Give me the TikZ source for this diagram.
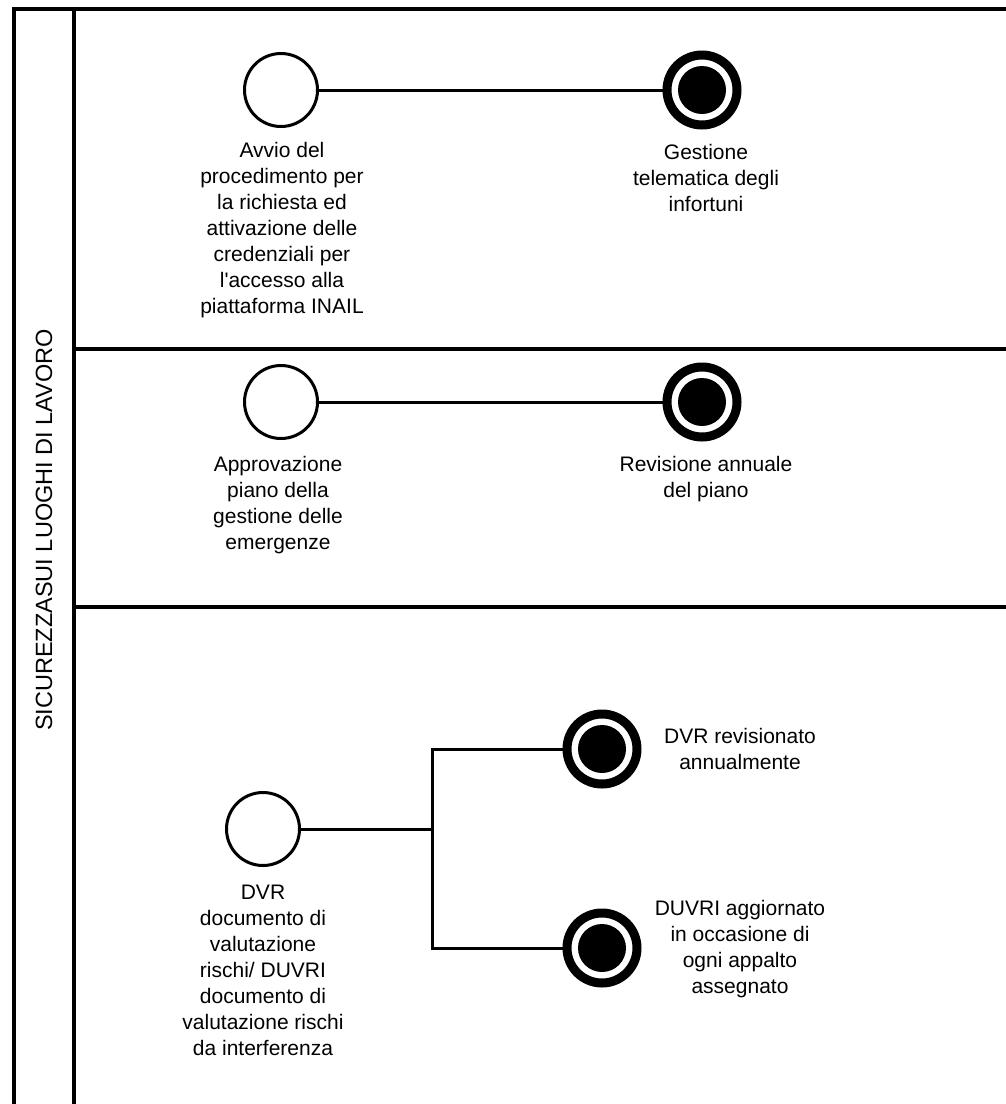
\documentclass[tikz,border=0pt]{standalone}
\usepackage{fontspec}
\setmainfont{Liberation Sans}
\begin{document}
\begin{tikzpicture}[x=1pt,y=-1pt,
  border/.style={line width=4pt,line cap=rect},
  startev/.style={circle,draw,line width=3pt,minimum size=73pt,inner sep=0pt},
  endev/.style={circle,draw,line width=9pt,minimum size=70pt,inner sep=0pt,
    path picture={\fill (path picture bounding box.center) circle (24pt);}},
  flow/.style={line width=3pt},
  lbl/.style={align=center,inner sep=0pt,font=\fontsize{21}{26}\selectfont},
]
\useasboundingbox (0,0) rectangle (1006,1104);
% pool and lanes
\coordinate (tl) at (14,9);
\coordinate (tr) at (1010,9);
\coordinate (bl) at (14,1110);
\coordinate (dt) at (74,9);
\coordinate (db) at (74,1110);
\coordinate (l1a) at (74,349);
\coordinate (l1b) at (1010,349);
\coordinate (l2a) at (74,607);
\coordinate (l2b) at (1010,607);
\draw[border] (bl) -- (tl) -- (tr);
\draw[border] (dt) -- (db);
\draw[border] (l1a) -- (l1b);
\draw[border] (l2a) -- (l2b);
\node[align=center,inner sep=0pt,font=\fontsize{23.5}{28}\selectfont,rotate=90] (pool) at (44,530) {SICUREZZASUI LUOGHI DI LAVORO};
% lane 1
\node[startev] (s1) at (281,90) {};
\node[endev] (e1) at (702,90) {};
\draw[flow] (s1) -- (e1);
\node[lbl] (t1) at (282,230) {Avvio del\\procedimento per\\la richiesta ed\\attivazione delle\\credenziali per\\l\textquotesingle accesso alla\\piattaforma INAIL};
\node[lbl] (t2) at (706,178) {Gestione\\telematica degli\\infortuni};
% lane 2
\node[startev] (s2) at (281,402) {};
\node[endev] (e2) at (702,402) {};
\draw[flow] (s2) -- (e2);
\node[lbl] (t3) at (278,505) {Approvazione\\piano della\\gestione delle\\emergenze};
\node[lbl] (t4) at (706,479) {Revisione annuale\\del piano};
% lane 3
\node[startev] (s3) at (263,829) {};
\node[endev] (e3) at (602,749) {};
\node[endev] (e4) at (602,948) {};
\coordinate (j) at (432,829);
\draw[flow] (s3) -- (j);
\draw[flow] (e3.west) -| (j) |- (e4.west);
\node[lbl] (t5) at (263,970) {DVR\\documento di\\valutazione\\rischi/ DUVRI\\documento di\\valutazione rischi\\da interferenza};
\node[lbl] (t6) at (740,749) {DVR revisionato\\annualmente};
\node[lbl] (t7) at (740,949) {DUVRI aggiornato\\in occasione di\\ogni appalto\\assegnato};
\end{tikzpicture}
\end{document}
